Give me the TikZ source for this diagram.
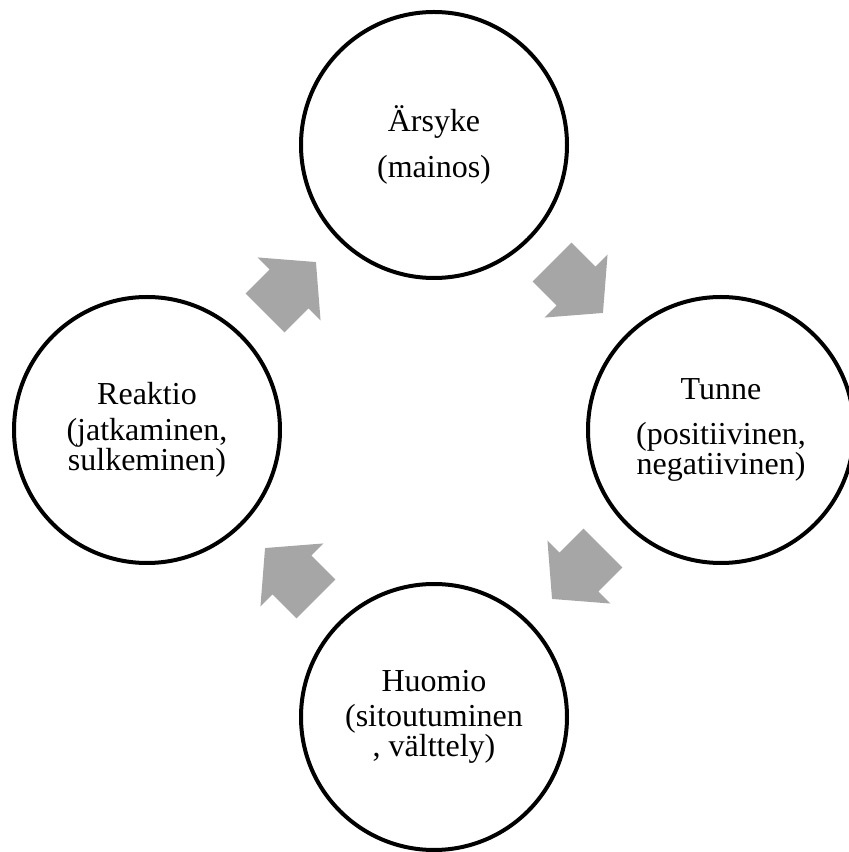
\documentclass[tikz,border=0pt]{standalone}
\usepackage{fontspec}
\setmainfont{Liberation Serif}
\usepackage{xcolor}
\usetikzlibrary{calc}

\definecolor{arrowgray}{HTML}{A6A6A6}

\tikzset{
  stage/.style={circle, draw, line width=4pt, minimum size=266pt, inner sep=0pt,
                align=center, font=\fontsize{32}{28}\selectfont},
  blockarrow/.pic={
    \fill[arrowgray] (-36,-27.5) -- (-2,-27.5) -- (-2,-44.5) -- (36,0)
                     -- (-2,44.5) -- (-2,27.5) -- (-36,27.5) -- cycle;
  }
}

\begin{document}
\begin{tikzpicture}[x=1pt, y=1pt]
        \useasboundingbox (0,0) rectangle (849,852);
        \node[stage] (arsyke)  at (434,707) {Ärsyke\\[16pt](mainos)};
        \node[stage] (tunne)   at (721,422) {Tunne\\[17pt](positiivinen,\\negatiivinen)};
        \node[stage] (huomio)  at (434,135) {Huomio\\[7pt](sitoutuminen\\, välttely)};
        \node[stage] (reaktio) at (147,422) {Reaktio\\[8pt](jatkaminen,\\sulkeminen)};
        % block arrows between the stages
        \foreach \from/\to/\ang in {reaktio/arsyke/45, arsyke/tunne/-45,
                                    tunne/huomio/-135, huomio/reaktio/135}
          \pic[rotate=\ang] at ($(\from)!.5!(\to)$) {blockarrow};
\end{tikzpicture}
\end{document}
